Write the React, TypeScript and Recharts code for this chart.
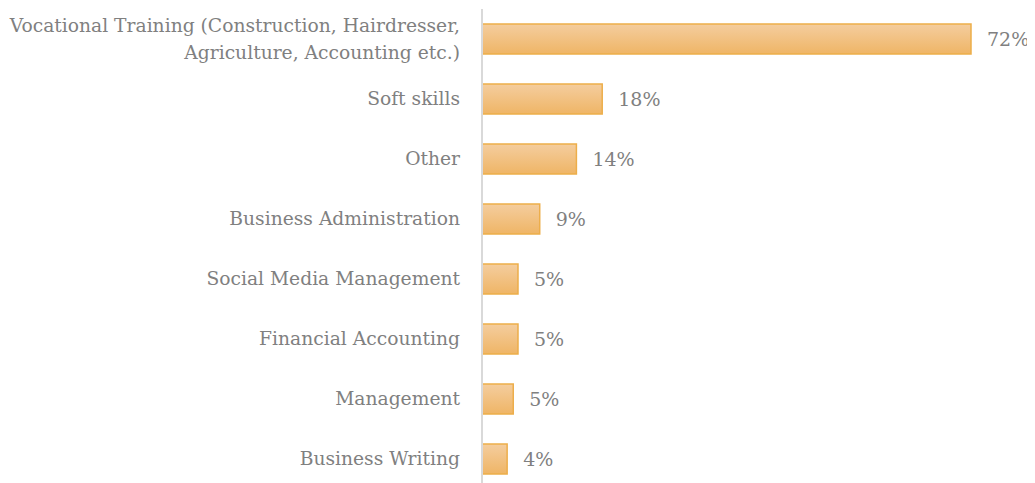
import React from "react";
import { BarChart, Bar, XAxis, YAxis, LabelList } from "recharts";

const categories = [
  "Vocational Training (Construction, Hairdresser,|Agriculture, Accounting etc.)",
  "Soft skills",
  "Other",
  "Business Administration",
  "Social Media Management",
  "Financial Accounting",
  "Management",
  "Business Writing",
];
const values = [72, 17.7, 13.9, 8.5, 5.3, 5.3, 4.6, 3.7];
const labels = ["72%", "18%", "14%", "9%", "5%", "5%", "5%", "4%"];

const data = categories.map((c, i) => ({ name: c, value: values[i], label: labels[i] }));

const FONT = "'DejaVu Serif', serif";
const GRAY = "#808080";

const Tick = (props: any) => {
  const { x, y, payload } = props;
  const lines = String(payload.value).split("|");
  const lh = 27;
  const start = -((lines.length - 1) * lh) / 2;
  return (
    <text x={x} y={y} textAnchor="end" fill={GRAY} fontFamily={FONT} fontSize={18.7}>
      {lines.map((l, i) => (
        <tspan key={i} x={x} dy={i === 0 ? start + 6 : lh}>
          {l}
        </tspan>
      ))}
    </text>
  );
};

export default function App() {
  return (
    <BarChart
      width={1027}
      height={481}
      data={data}
      layout="vertical"
      margin={{ top: 1, right: 64, bottom: 0, left: 0 }}
      barCategoryGap={15}
    >
      <defs>
        <linearGradient id="barGrad" x1="0" y1="0" x2="0" y2="1">
          <stop offset="0%" stopColor="#F4CD9E" />
          <stop offset="100%" stopColor="#EFB566" />
        </linearGradient>
      </defs>
      <XAxis type="number" domain={[0, 72]} hide />
      <YAxis
        type="category"
        dataKey="name"
        width={474}
        axisLine={{ stroke: "#d9d9d9", strokeWidth: 2 }}
        tickLine={false}
        tickSize={0}
        tickMargin={22}
        tick={<Tick />}
        interval={0}
      />
      <Bar
        dataKey="value"
        fill="url(#barGrad)"
        stroke="#EDAE4A"
        strokeWidth={1.5}
        isAnimationActive={false}
      >
        <LabelList
          dataKey="label"
          position="right"
          offset={16}
          fill={GRAY}
          fontFamily={FONT}
          fontSize={19}
        />
      </Bar>
    </BarChart>
  );
}
